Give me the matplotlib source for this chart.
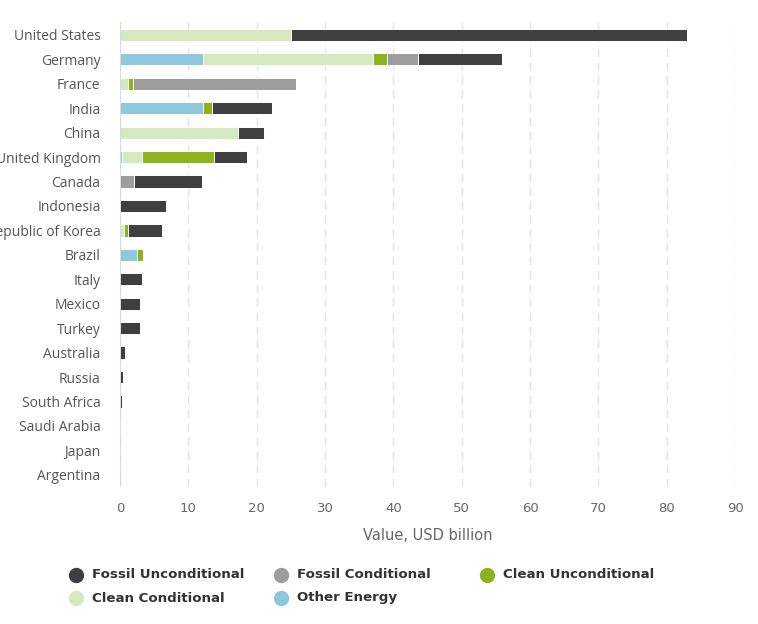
import matplotlib
matplotlib.use("Agg")
import matplotlib.pyplot as plt
from matplotlib.lines import Line2D
import numpy as np

countries = ["United States", "Germany", "France", "India", "China", "United Kingdom",
             "Canada", "Indonesia", "Republic of Korea", "Brazil", "Italy", "Mexico",
             "Turkey", "Australia", "Russia", "South Africa", "Saudi Arabia", "Japan", "Argentina"]

other_energy = [0, 12.1, 0, 12.1, 0, 0.3, 0, 0, 0, 2.5, 0, 0, 0, 0, 0, 0, 0, 0, 0]
clean_cond = [25.0, 24.9, 1.1, 0, 17.2, 2.9, 0, 0, 0.6, 0, 0, 0, 0, 0, 0, 0, 0, 0, 0]
clean_uncond = [0, 2.1, 0.8, 1.3, 0, 10.5, 0, 0, 0.6, 0.9, 0, 0, 0, 0, 0, 0, 0, 0, 0]
fossil_cond = [0, 4.5, 23.8, 0, 0, 0, 2.0, 0, 0, 0, 0, 0, 0, 0, 0, 0, 0, 0, 0]
fossil_uncond = [58.0, 12.3, 0, 8.8, 3.9, 4.9, 10.0, 6.7, 4.9, 0, 3.2, 2.9, 2.9, 0.8, 0.5, 0.3, 0, 0, 0]

series = [
    ("Other Energy", other_energy, "#8fc7dc"),
    ("Clean Conditional", clean_cond, "#d4e9c0"),
    ("Clean Unconditional", clean_uncond, "#8cb31b"),
    ("Fossil Conditional", fossil_cond, "#9d9d9d"),
    ("Fossil Unconditional", fossil_uncond, "#3f3f3f"),
]
legend_order = ["Fossil Unconditional", "Fossil Conditional", "Clean Unconditional",
                "Clean Conditional", "Other Energy"]
xticks = [0, 10, 20, 30, 40, 50, 60, 70, 80, 90]

W, H = 758, 624
fig = plt.figure(figsize=(W / 100, H / 100), dpi=100)
ax = fig.add_axes([120 / W, 1 - 487 / H, (735 - 120) / W, (487 - 22) / H])

y = np.arange(len(countries))
left = np.zeros(len(countries))
for name, vals, col in series:
    v = np.array(vals, dtype=float)
    ax.barh(y, v, left=left, height=0.5, color=col, edgecolor="white", linewidth=0.7, zorder=3)
    left += v

ax.set_xlim(0, 90)
ax.set_ylim(len(countries) - 0.5, -0.53)
ax.set_yticks(y)
ax.set_yticklabels(countries, fontsize=10, color="#555555", family="Open Sans")
ax.set_xticks(xticks)
ax.set_xticklabels([str(t) for t in xticks], fontsize=9.5, color="#666666", family="DejaVu Sans")
ax.tick_params(axis="x", length=0, pad=11)
ax.tick_params(axis="y", length=0, pad=14)
for s in ax.spines.values():
    s.set_visible(False)
ax.grid(axis="x", color="#e3e3e3", linestyle=(0, (6, 4)), linewidth=1, zorder=0)
ax.axvline(0, color="#ccd6eb", linewidth=1.2, zorder=4)
ax.set_axisbelow(True)
ax.set_xlabel("Value, USD billion", fontsize=10.5, color="#666666", labelpad=9, family="DejaVu Sans")

# legend (manual)
colmap = {n: c for n, _, c in series}
pos = [(76, 575), (281, 575), (487, 575), (76, 598), (281, 598)]
for name, (px, py) in zip(legend_order, pos):
    fig.add_artist(Line2D([px / W], [1 - py / H], marker="o", markersize=10, color=colmap[name],
                          linestyle="none", transform=fig.transFigure))
    fig.text((px + 16) / W, 1 - py / H, name, fontsize=9.6, fontweight="bold", color="#333333",
             va="center", ha="left", family="DejaVu Sans")

fig.savefig("out.png", dpi=100)
